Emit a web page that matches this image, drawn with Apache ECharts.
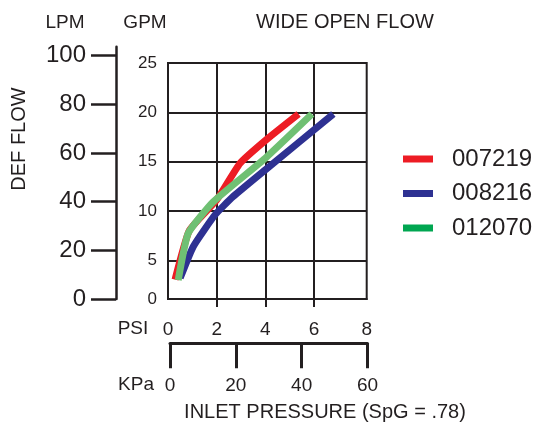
<!DOCTYPE html>
<html>
<head>
<meta charset="utf-8">
<script src="https://cdn.jsdelivr.net/npm/echarts@6/dist/echarts.min.js"></script>
<style>
html,body{margin:0;padding:0;background:#fff;}
#chart{width:539px;height:423px;}
</style>
</head>
<body>
<div id="chart"></div>
<script>
// ---- data (PSI, GPM) ----
const seriesNames = ['007219', '008216', '012070'];
const red007219 = [[0.29,3.05],[0.88,8.04],[2.0,11.12],[2.96,14.84],[4.06,17.27],[5.36,19.83]];
const blue008216 = [[0.5,3.2],[1.04,6.4],[1.93,9.6],[2.67,11.45],[3.99,14.16],[6.79,19.83]];
const green012070 = [[0.42,3.0],[0.83,7.74],[1.86,10.94],[3.99,15.34],[5.91,19.83]];
const gpmTicks = [5, 10, 15, 20];
const gpmLabels = [1.08, 5, 10, 15, 20, 25];
const psiTicks = [2, 4, 6];
const psiLabels = [0, 2, 4, 6, 8.16];
const lpmRange = [0, 103.7];
const kpaRange = [0, 60];

const ink = '#231f20';
const font = 'Liberation Sans, Arial, sans-serif';
const chart = echarts.init(document.getElementById('chart'), null, {renderer: 'canvas'});

const lineSeries = (name, data, color, z) => ({
  name, type: 'line', data, xAxisIndex: 0, yAxisIndex: 0,
  symbol: 'none', smooth: 0.15, z,
  lineStyle: {color, width: 7, cap: 'butt', join: 'round'},
  itemStyle: {color},
  emphasis: {disabled: true}
});

chart.setOption({
  animation: false,
  grid: [
    {left: 168, top: 63, width: 198.7, height: 236, show: true, borderColor: ink, borderWidth: 2, backgroundColor: 'transparent', outerBoundsMode: 'none'},
    {left: 116, top: 46.7, width: 1, height: 252.3, outerBoundsMode: 'none'},
    {left: 170, top: 342, width: 197.5, height: 1.3, outerBoundsMode: 'none'}
  ],
  xAxis: [
    {gridIndex: 0, type: 'value', min: 0, max: 8.16,
     axisLine: {show: true, lineStyle: {color: ink, width: 2}},
     axisTick: {show: true, customValues: psiTicks, length: 8, lineStyle: {color: ink, width: 2}},
     axisLabel: {customValues: psiLabels, formatter: v => String(Math.round(v)), margin: 21, fontSize: 19, color: ink, fontFamily: font},
     splitLine: {show: true, lineStyle: {color: ink, width: 2}}},
    {gridIndex: 1, type: 'value', min: 0, max: 1, show: false},
    {gridIndex: 2, type: 'value', min: kpaRange[0], max: kpaRange[1], interval: 20, position: 'bottom',
     axisLine: {show: true, lineStyle: {color: ink, width: 3}},
     axisTick: {show: true, length: 25, lineStyle: {color: ink, width: 3}},
     axisLabel: {margin: 33, fontSize: 19, color: ink, fontFamily: font},
     splitLine: {show: false}}
  ],
  yAxis: [
    {gridIndex: 0, type: 'value', min: 1.08, max: 25,
     axisLine: {show: true, lineStyle: {color: ink, width: 2}},
     axisTick: {show: false, customValues: gpmTicks},
     axisLabel: {customValues: gpmLabels, formatter: v => v < 2 ? '0' : String(Math.round(v)), margin: 11, fontSize: 17, color: ink, fontFamily: font},
     splitLine: {show: true, lineStyle: {color: ink, width: 2}}},
    {gridIndex: 1, type: 'value', min: lpmRange[0], max: lpmRange[1], interval: 20, position: 'left',
     axisLine: {show: true, lineStyle: {color: ink, width: 2.5}},
     axisTick: {show: true, length: 25, lineStyle: {color: ink, width: 2.5}},
     axisLabel: {margin: 30, fontSize: 24, color: ink, fontFamily: font, showMaxLabel: false},
     splitLine: {show: false}},
    {gridIndex: 2, type: 'value', min: 0, max: 1, show: false}
  ],
  legend: {
    orient: 'vertical', left: 403, top: 147, padding: 0,
    itemWidth: 30, itemHeight: 7, itemGap: 10.5, icon: 'rect',
    selectedMode: false,
    data: [
      {name: '007219', itemStyle: {color: '#ed1c24'}},
      {name: '008216', itemStyle: {color: '#2e3192'}},
      {name: '012070', itemStyle: {color: '#00a651'}}
    ],
    textStyle: {fontSize: 24, lineHeight: 24, color: ink, fontFamily: font, padding: [0, 0, 0, 14]}
  },
  series: [
    lineSeries(seriesNames[0], red007219, '#ed1c24', 2),
    lineSeries(seriesNames[1], blue008216, '#2e3192', 3),
    lineSeries(seriesNames[2], green012070, '#6fc073', 4)
  ],
  graphic: [
    {type: 'text', x: 65, y: 23, style: {text: 'LPM', fontSize: 19, fontFamily: font, fill: ink, align: 'center', verticalAlign: 'middle'}},
    {type: 'text', x: 145, y: 23, style: {text: 'GPM', fontSize: 19, fontFamily: font, fill: ink, align: 'center', verticalAlign: 'middle'}},
    {type: 'text', x: 345, y: 22, style: {text: 'WIDE OPEN FLOW', fontSize: 20, fontFamily: font, fill: ink, align: 'center', verticalAlign: 'middle'}},
    {type: 'text', x: 19, y: 139, rotation: Math.PI / 2, style: {text: 'DEF FLOW', fontSize: 20, fontFamily: font, fill: ink, align: 'center', verticalAlign: 'middle'}},
    {type: 'text', x: 133, y: 329, style: {text: 'PSI', fontSize: 19, fontFamily: font, fill: ink, align: 'center', verticalAlign: 'middle'}},
    {type: 'text', x: 136, y: 385, style: {text: 'KPa', fontSize: 19, fontFamily: font, fill: ink, align: 'center', verticalAlign: 'middle'}},
    {type: 'text', x: 325, y: 412, style: {text: 'INLET PRESSURE (SpG = .78)', fontSize: 20, fontFamily: font, fill: ink, align: 'center', verticalAlign: 'middle'}}
  ]
});
</script>
</body>
</html>
